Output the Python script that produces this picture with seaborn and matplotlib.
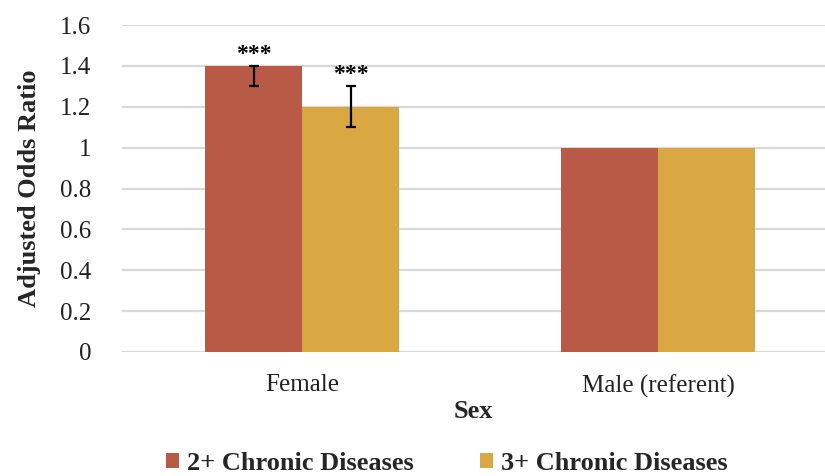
import matplotlib
matplotlib.use("Agg")
import matplotlib.pyplot as plt
import seaborn as sns
import pandas as pd
import numpy as np
from matplotlib.patches import Patch

categories = ["Female", "Male (referent)"]
series = ["2+ Chronic Diseases", "3+ Chronic Diseases"]
values_2plus = [1.4, 1.0]
values_3plus = [1.2, 1.0]
lower_2plus = [1.3, None]
upper_2plus = [1.4, None]
lower_3plus = [1.1, None]
upper_3plus = [1.3, None]
sig_labels = ["***", "***"]
colors = ["#B85A45", "#D9A843"]
yticks = [0, 0.2, 0.4, 0.6, 0.8, 1, 1.2, 1.4, 1.6]
ytick_labels = ["0", "0.2", "0.4", "0.6", "0.8", "1", "1.2", "1.4", "1.6"]

df = pd.DataFrame({
    "Sex": categories * 2,
    "Series": [series[0]] * 2 + [series[1]] * 2,
    "AOR": values_2plus + values_3plus,
})

sns.set_theme(style="white")
plt.rcParams["font.family"] = ["Liberation Serif", "DejaVu Serif"]

fig = plt.figure(figsize=(8.25, 4.76), dpi=100)
ax = fig.add_axes([122 / 825, (476 - 352) / 476, (825 - 122) / 825, (352 - 25) / 476])

sns.barplot(data=df, x="Sex", y="AOR", hue="Series", palette=colors,
            order=categories, hue_order=series, errorbar=None,
            width=0.545, saturation=1, ax=ax, legend=False, zorder=2,
            linewidth=0)

ax.set_xlim(-0.506, 1.469)
ax.set_ylim(0, 1.6)
ax.set_yticks(yticks)
ax.set_yticklabels(ytick_labels)
ax.yaxis.grid(True, color="#D9D9D9", linewidth=1.6, zorder=0)
ax.set_axisbelow(True)
for s in ax.spines.values():
    s.set_visible(False)
ax.tick_params(axis="both", length=0, labelsize=18, colors="#222222")
ax.tick_params(axis="y", pad=22)
ax.tick_params(axis="x", pad=16)
ax.set_ylabel("Adjusted Odds Ratio", fontsize=19, fontweight="bold", labelpad=14)
ax.set_xlabel("Sex", fontsize=19, fontweight="bold", labelpad=2)

# error bars and significance labels
bars = ax.patches
ci = [(lower_2plus, upper_2plus, values_2plus), (lower_3plus, upper_3plus, values_3plus)]
for si, (lo, up, vals) in enumerate(ci):
    for ci_i in range(len(categories)):
        if lo[ci_i] is None:
            continue
        bar = bars[si * len(categories) + ci_i]
        xc = bar.get_x() + bar.get_width() / 2
        v = vals[ci_i]
        ax.errorbar(xc, v, yerr=[[v - lo[ci_i]], [up[ci_i] - v]], fmt="none",
                    ecolor="black", elinewidth=1.6, capsize=3.6, capthick=1.6, zorder=3)
        ax.text(xc, up[ci_i] + 0.005, sig_labels[si], ha="center", va="bottom",
                fontsize=17, fontweight="bold", color="black")

handles = [Patch(facecolor=c, edgecolor="none") for c in colors]
fig.legend(handles, series, loc="center", bbox_to_anchor=(447 / 825, 1 - 463 / 476),
           ncol=2, frameon=False, prop={"size": 19, "weight": "bold"},
           handlelength=0.5, handleheight=0.5, handletextpad=0.3, columnspacing=2.5)

fig.savefig("out.png", dpi=100)
